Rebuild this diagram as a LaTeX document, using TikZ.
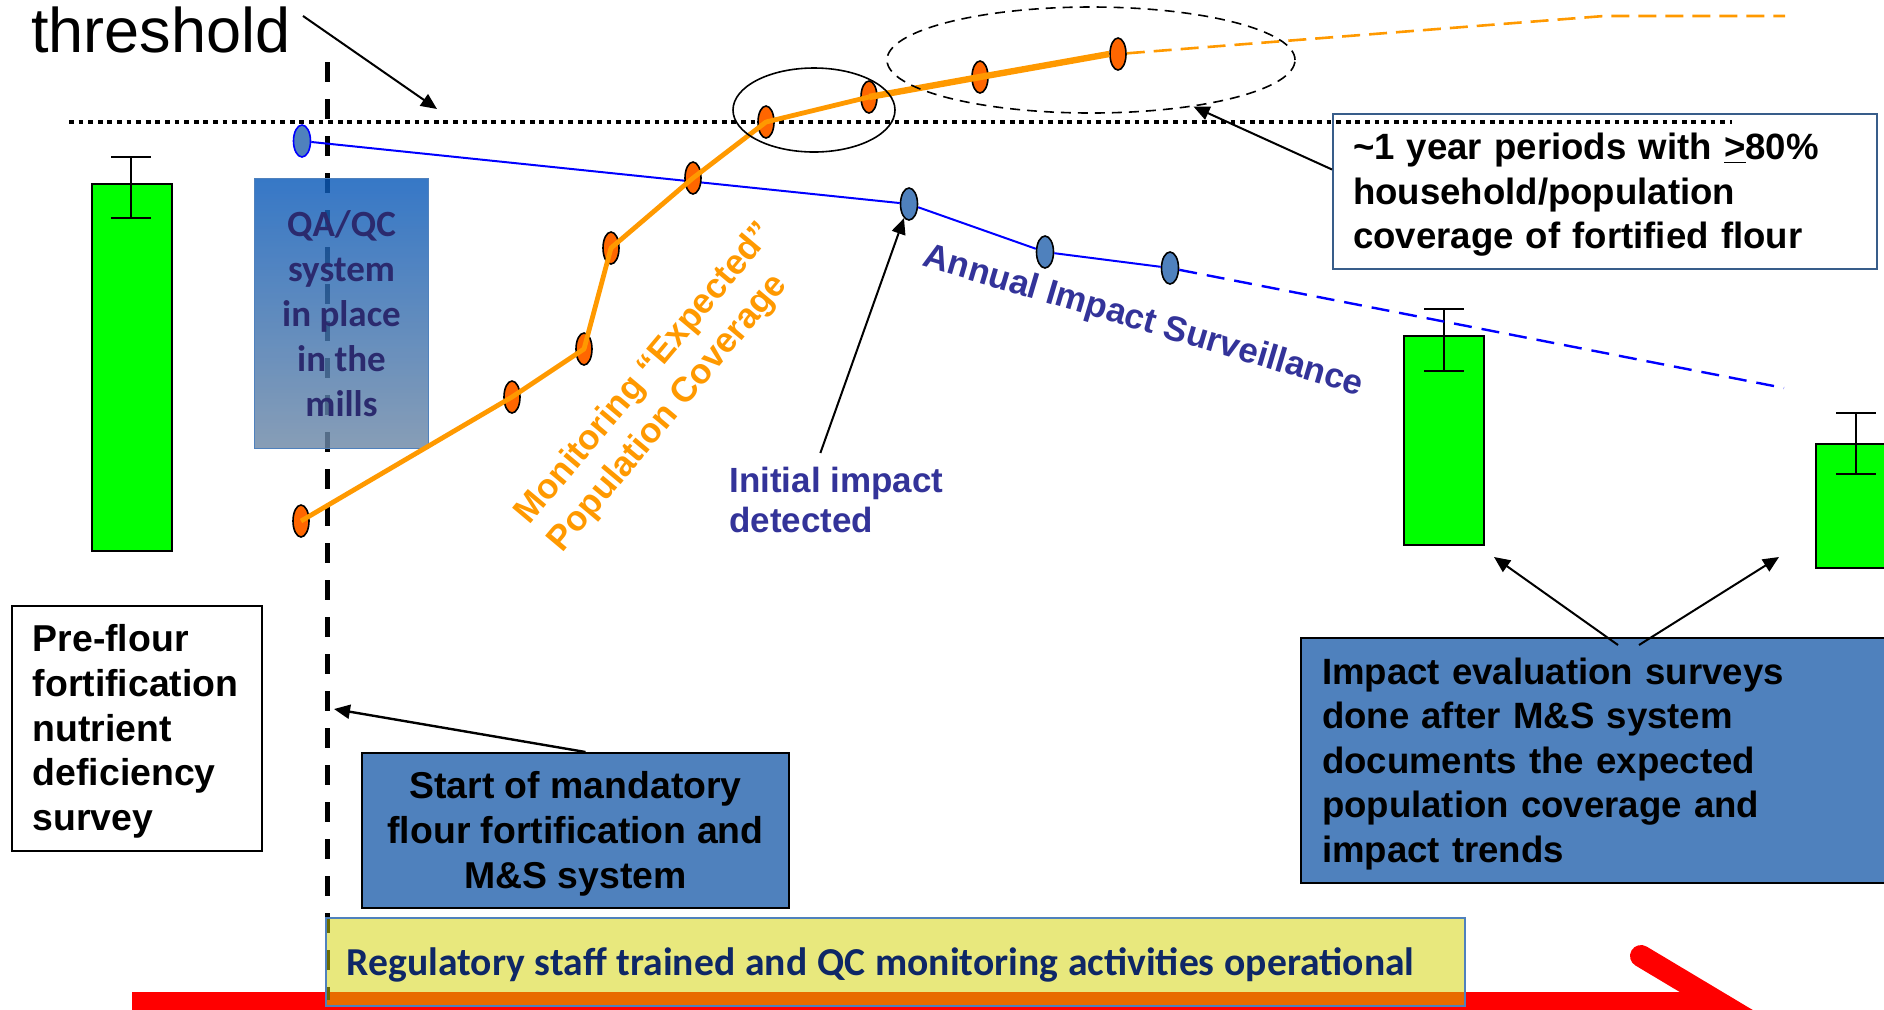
\documentclass[tikz,border=0pt]{standalone}
\usepackage{fontspec}
\setmainfont{Liberation Sans}
\newfontfamily\calib{Carlito}
\usetikzlibrary{shapes.geometric,arrows.meta}
\definecolor{lgreen}{RGB}{0,255,0}
\definecolor{orline}{RGB}{255,153,0}
\definecolor{ormark}{RGB}{255,102,0}
\definecolor{bmark}{RGB}{79,129,189}
\definecolor{navy}{RGB}{51,51,153}
\definecolor{qatext}{RGB}{43,42,110}
\definecolor{ytext}{RGB}{14,39,102}
\definecolor{yfill}{RGB}{210,210,0}
\definecolor{yrborder}{RGB}{56,93,138}
\definecolor{qatop}{RGB}{10,90,186}
\definecolor{qabot}{RGB}{109,136,166}
\newcommand\mytop{\rule{0pt}{16.6pt}}
\begin{document}
\begin{tikzpicture}[x=0.5pt,y=-0.5pt,
  bf/.style={font=\bfseries\fontsize{18.3}{22.3}\selectfont},
  bfl/.style={font=\bfseries\fontsize{18.7}{22.4}\selectfont},
  arr/.style={-{Triangle[length=8pt,width=7pt]}, line width=1pt},
  bar/.style={draw, line width=1pt, fill=lgreen, anchor=north west, inner sep=0, minimum width=40pt},
  bm/.style={ellipse, fill=bmark, draw=black, line width=0.8pt, minimum width=8.5pt, minimum height=16pt, inner sep=0},
  om/.style={ellipse, fill=ormark, draw=black, line width=0.8pt, minimum width=8pt, minimum height=16pt, inner sep=0},
  ebar/.style={line width=1pt}]
\path[use as bounding box] (0,0) rectangle (1884,1009);
\clip (0,0) rectangle (1884,1009);

% red timeline arrow
\fill[red] (132,992) rectangle (1720,1040);
\draw[red, line width=11pt, line cap=round] (1641,956) -- (1820,1063);

% vertical dashed start line
\coordinate (vtop) at (327,62);
\coordinate (vbot) at (327,1000);
\draw[line width=2.5pt, dash pattern=on 10pt off 8.5pt] (vtop) -- (vbot);

% year box (under the dotted threshold line)
\node[anchor=north west, draw=yrborder, fill=white, line width=1pt, minimum width=272pt, minimum height=77.5pt, text width=252pt, inner xsep=10pt, inner ysep=0, align=left, bf] (year) at (1332,113) {\mytop\textasciitilde1 year periods with \underline{>}80\%\\household/population\\coverage of fortified flour};

% threshold dotted line
\coordinate (thl) at (69,122);
\coordinate (thr2) at (1732,122);
\draw[line width=2.1pt, dash pattern=on 2.4pt off 2.4pt] (thl) -- (thr2);

% QA/QC box
\node[draw=bmark, line width=0.5pt, top color=qatop, bottom color=qabot, fill opacity=0.82, text opacity=1, minimum width=87pt, minimum height=135pt, anchor=north west, inner sep=0, align=center, text=qatext, font=\calib\bfseries\fontsize{18.5}{22.5}\selectfont] (qa) at (254,178) {QA/QC\\system\\in place\\in the\\mills};

% green bars with error bars
\node[bar, minimum height=183.5pt] (bar1) at (91,183) {};
\node[bar, minimum height=104.5pt] (bar2) at (1403,335) {};
\node[bar, minimum height=62pt] (bar3) at (1815,443) {};
\draw[ebar] (111,157) -- (151,157) (131,157) -- (131,218) (111,218) -- (151,218);
\draw[ebar] (1424,309) -- (1464,309) (1444,309) -- (1444,371) (1424,371) -- (1464,371);
\draw[ebar] (1836,413) -- (1876,413) (1856,413) -- (1856,474) (1836,474) -- (1876,474);

% blue impact line
\node[bm, draw=blue] (b1) at (302,141) {};
\node[bm] (b2) at (909,204) {};
\node[bm] (b3) at (1045,252) {};
\node[bm] (b4) at (1170,268) {};
\coordinate (bend) at (1784,388);
\draw[blue, line width=1pt] (b1) -- (b2) -- (b3) -- (b4);
\draw[blue, line width=1.2pt, dash pattern=on 9pt off 5pt] (b4) -- (bend);

% orange coverage line
\node[om] (o1) at (301,521) {};
\node[om] (o2) at (512,397) {};
\node[om] (o3) at (584,349) {};
\node[om] (o4) at (611,248) {};
\node[om] (o5) at (693,178) {};
\node[om] (o6) at (766,122) {};
\node[om] (o7) at (869,97) {};
\node[om] (o8) at (980,77) {};
\node[om] (o9) at (1118,54) {};
\draw[orline, line width=2.4pt, line join=round] (o1.center) -- (o2.center) -- (o3.center) -- (o4.center) -- (o5.center) -- (o6.center) -- (o7.center);
\draw[orline, line width=3.2pt, line join=round] (o7.center) -- (o8.center) -- (o9.west);
\coordinate (oc1) at (1604,16);
\coordinate (oc2) at (1785,16);
\draw[orline, line width=1.3pt, dash pattern=on 9pt off 4.5pt] (o9) -- (oc1) -- (oc2);

% ellipses
\node[draw, ellipse, line width=0.8pt, minimum width=81pt, minimum height=42pt, inner sep=0] (ell1) at (814,110) {};
\node[draw, ellipse, line width=0.8pt, dash pattern=on 5pt off 3.5pt, minimum width=204pt, minimum height=53pt, inner sep=0] (ell2) at (1091,60) {};

% threshold label
\node[anchor=base west, inner sep=0, font=\fontsize{31.5}{36}\selectfont] (thr) at (31,52) {threshold};
\coordinate (thrtip) at (437,109);
\draw[arr] ([shift={(6pt,-5pt)}]thr.north east) -- (thrtip);

% year arrow
\draw[arr] ([yshift=11pt]year.west) -- (ell2);

% pre-flour box
\node[anchor=north west, draw, fill=white, line width=0.8pt, minimum width=125pt, minimum height=122.5pt, text width=104pt, inner xsep=10.5pt, inner ysep=0, align=left, bfl] (pre) at (11,605) {\mytop Pre-flour\\fortification\\nutrient\\deficiency\\survey};

% start box
\node[anchor=north west, draw, fill=bmark, line width=1pt, minimum width=213.5pt, minimum height=77.5pt, inner sep=0, align=center, bfl] (start) at (361,752) {\mytop Start of mandatory\\flour fortification and\\M\&S system};
\coordinate (vmark) at (334,709);
\draw[arr, line width=1.2pt] ([xshift=5pt]start.north) -- (vmark);

% impact evaluation box
\node[anchor=north west, draw, fill=bmark, line width=1pt, minimum width=300pt, minimum height=122.5pt, text width=279pt, inner xsep=10.5pt, inner ysep=0, align=left, bf] (impact) at (1300,637) {\mytop Impact evaluation surveys\\done after M\&S system\\documents the expected\\population coverage and\\impact trends};
\coordinate (tip2) at (1494,557);
\coordinate (tip3) at (1779,557);
\draw[arr] ([shift={(8.5pt,-4pt)}]impact.north) -- (tip2);
\draw[arr] ([shift={(19pt,-4pt)}]impact.north) -- (tip3);

% initial impact label
\node[anchor=north west, inner sep=0, align=left, text=navy, font=\bfseries\fontsize{17.5}{20}\selectfont] (init) at (729,467) {Initial impact\\detected};
\draw[arr] ([shift={(-8pt,7pt)}]init.north) -- (b2);

% rotated labels
\node[rotate=50, align=left, text=orline, inner sep=0, font=\bfseries\fontsize{17.5}{21.5}\selectfont] (mon) at (662,388) {Monitoring “Expected”\\Population Coverage};
\node[rotate=-16.5, text=navy, inner sep=0, font=\bfseries\fontsize{17.5}{20}\selectfont] (ann) at (1143,322) {Annual Impact Surveillance};

% regulatory box
\node[anchor=north west, draw=bmark, line width=0.75pt, fill=yfill, fill opacity=0.51, text opacity=1, minimum width=569.5pt, minimum height=44pt, text width=548.5pt, text height=18pt, text depth=4pt, inner xsep=10.5pt, inner ysep=0, align=left, text=ytext, font=\calib\bfseries\fontsize{19.8}{23}\selectfont] (reg) at (325,917) {\spaceskip=0.25em\relax Regulatory staff trained and QC monitoring activities operational};
\end{tikzpicture}
\end{document}
